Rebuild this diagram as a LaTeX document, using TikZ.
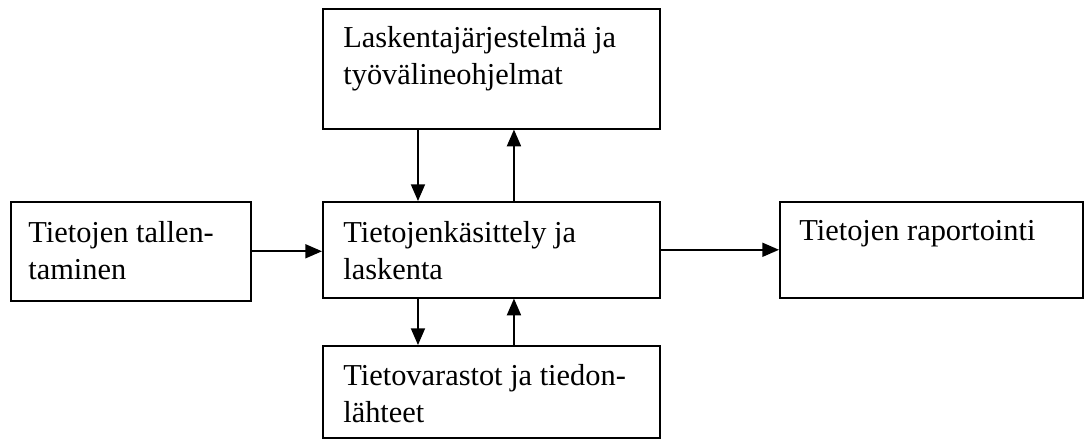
\documentclass[tikz,border=0pt]{standalone}
\usepackage{fontspec}
\setmainfont{Liberation Serif}
\usetikzlibrary{arrows.meta, calc}
\tikzset{
  box/.style={draw, line width=0.9pt, anchor=north west, inner sep=0pt},
  txt/.style={anchor=base west, align=left, inner sep=0pt, font=\fontsize{17.3}{21}\selectfont},
  arr/.style={-{Triangle[length=9.5pt, width=8pt]}, line width=0.9pt},
}
\begin{document}
\begin{tikzpicture}[x=0.02cm, y=-0.02cm]
  \useasboundingbox (0,0) rectangle (1086,440);
  % boxes
  \node[box, minimum width=6.74cm, minimum height=2.40cm] (sys) at (322,8) {};
  \node[box, minimum width=4.80cm, minimum height=1.98cm] (rec) at (10,201) {};
  \node[box, minimum width=6.74cm, minimum height=1.92cm] (proc) at (322,201) {};
  \node[box, minimum width=6.06cm, minimum height=1.92cm] (rep) at (779,201) {};
  \node[box, minimum width=6.74cm, minimum height=1.84cm] (store) at (322,345) {};
  % texts (base = last line)
  \node[txt] (systxt) at ($(sys.north west)+(21,76)$) {Laskentajärjestelmä ja\\työvälineohjelmat};
  \node[txt] (rectxt) at ($(rec.north west)+(18,78)$) {Tietojen tallen-\\taminen};
  \node[txt] (proctxt) at ($(proc.north west)+(21,78)$) {Tietojenkäsittely ja\\laskenta};
  \node[txt] (reptxt) at ($(rep.north west)+(20,39)$) {Tietojen raportointi};
  \node[txt] (storetxt) at ($(store.north west)+(21,77)$) {Tietovarastot ja tiedon-\\lähteet};
  % connectors
  \draw[arr] ([xshift=1.92cm]sys.south west) -- ([xshift=1.92cm]proc.north west);
  \draw[arr] ([xshift=3.84cm]proc.north west) -- ([xshift=3.84cm]sys.south west);
  \draw[arr] ([xshift=1.92cm]proc.south west) -- ([xshift=1.92cm]store.north west);
  \draw[arr] ([xshift=3.84cm]store.north west) -- ([xshift=3.84cm]proc.south west);
  \draw[arr] (rec.east) -- (rec.east -| proc.west);
  \draw[arr] (proc.east) -- (proc.east -| rep.west);
\end{tikzpicture}
\end{document}
